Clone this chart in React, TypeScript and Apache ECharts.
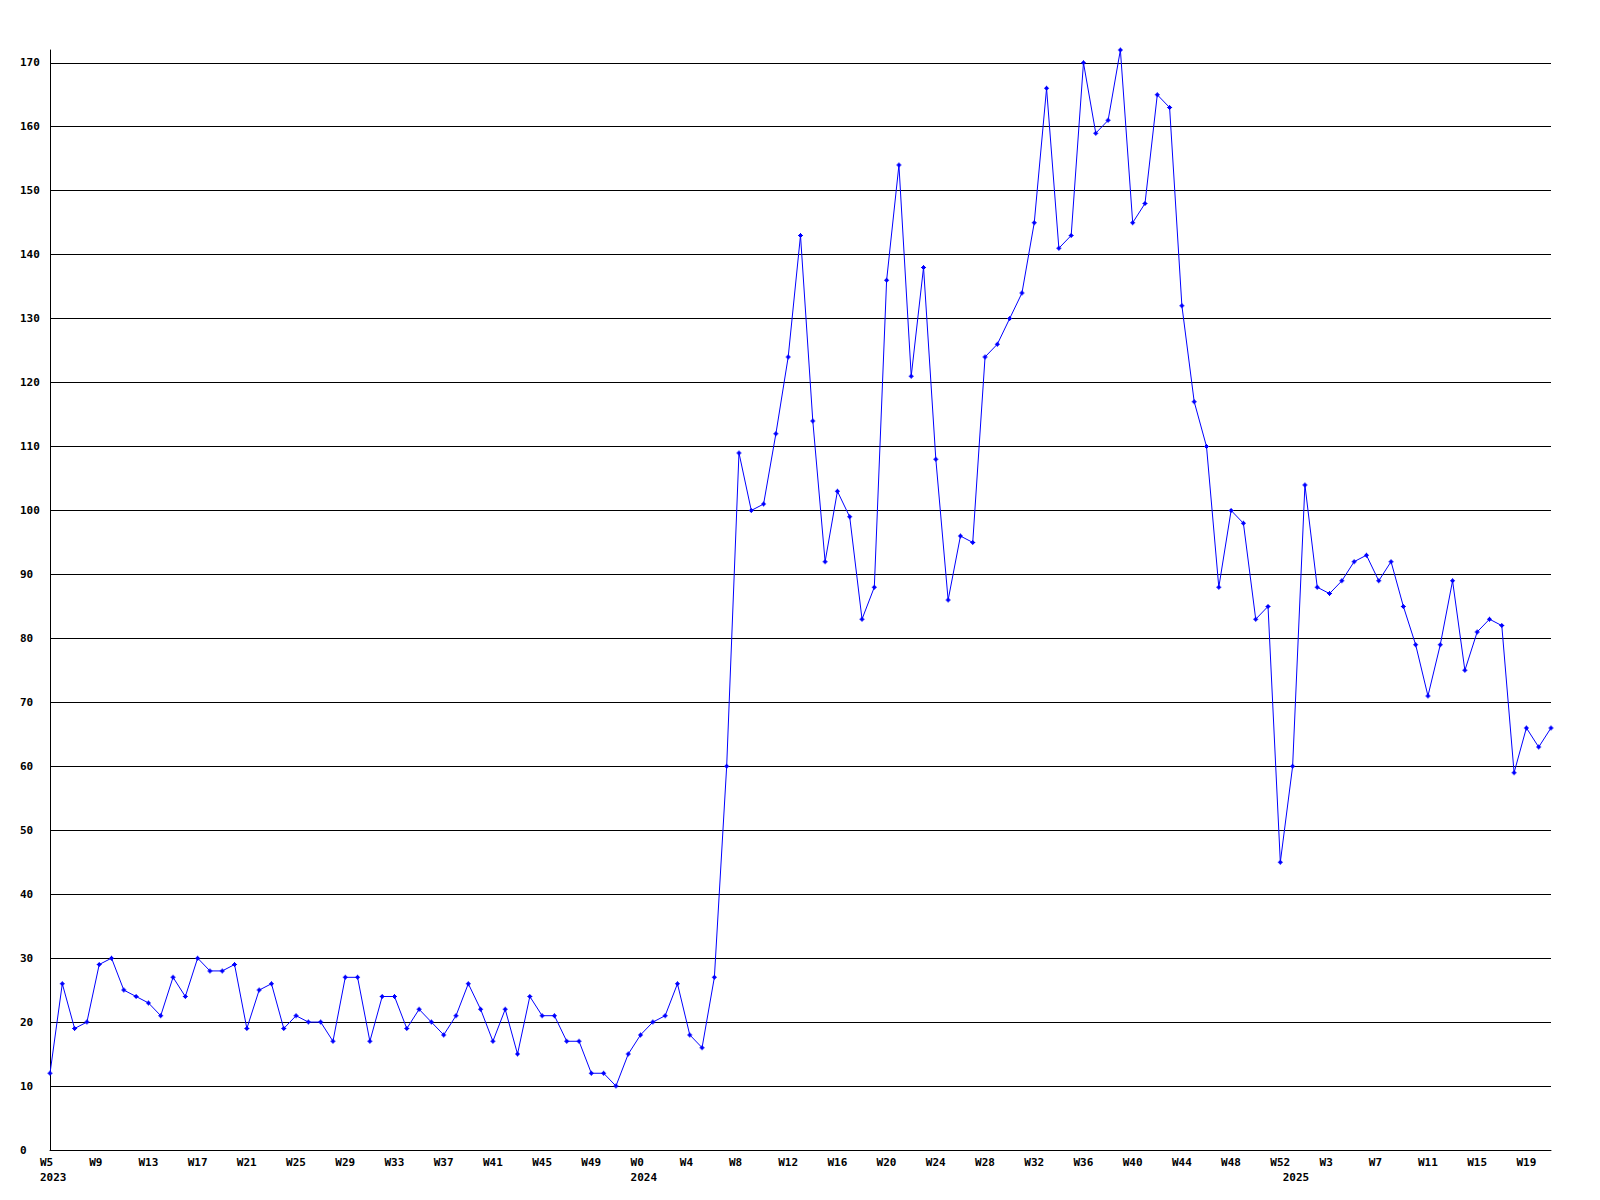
import React, { useEffect, useRef } from "react";
import * as echarts from "echarts";

// Week ranges covered by the x axis (year, first week, last week)
const weekRanges: [number, number, number][] = [
  [2023, 5, 52],
  [2024, 0, 52],
  [2025, 0, 21],
];

const weekLabels: string[] = [];
const yearLabels: string[] = []; // year shown under the first week of each year
weekRanges.forEach(([year, from, to]) => {
  for (let w = from; w <= to; w++) {
    weekLabels.push("W" + w);
    yearLabels.push(w === from ? String(year) : "");
  }
});

const values2023: number[] = [
  12, 26, 19, 20, 29, 30, 25, 24, 23, 21, 27, 24, 30, 28, 28, 29, 19, 25, 26, 19,
  21, 20, 20, 17, 27, 27, 17, 24, 24, 19, 22, 20, 18, 21, 26, 22, 17, 22, 15, 24,
  21, 21, 17, 17, 12, 12, 10, 15,
];
const values2024: number[] = [
  18, 20, 21, 26, 18, 16, 27, 60, 109, 100, 101, 112, 124, 143, 114, 92, 103, 99, 83, 88,
  136, 154, 121, 138, 108, 86, 96, 95, 124, 126, 130, 134, 145, 166, 141, 143, 170, 159, 161, 172,
  145, 148, 165, 163, 132, 117, 110, 88, 100, 98, 83, 85, 45,
];
const values2025: number[] = [
  60, 104, 88, 87, 89, 92, 93, 89, 92, 85, 79, 71, 79, 89, 75, 81, 83, 82, 59, 66,
  63, 66,
];
const seriesValues: number[] = [...values2023, ...values2024, ...values2025];

const yMin = 0;
const yMax = 172;
const yStep = 10;

const FONT = "DejaVu Sans Mono";

export default function App() {
  const ref = useRef<HTMLDivElement>(null);

  useEffect(() => {
    document.body.style.margin = "0";
    if (!ref.current) return;
    const chart = echarts.init(ref.current, null, { renderer: "svg" });
    const labelStyle = {
      fontFamily: FONT,
      fontWeight: "bold" as const,
      fontSize: 11,
      color: "#000",
    };
    chart.setOption({
      animation: false,
      backgroundColor: "#fff",
      grid: { left: 50, right: 49, top: 50, bottom: 50, containLabel: false },
      xAxis: {
        type: "category",
        data: weekLabels,
        boundaryGap: false,
        axisLine: { show: true, lineStyle: { color: "#000", width: 1 } },
        axisTick: { show: false },
        splitLine: { show: false },
        axisLabel: {
          ...labelStyle,
          align: "left",
          verticalAlign: "top",
          lineHeight: 15,
          margin: 5,
          padding: [0, 0, 0, -10],
          interval: (index: number) => index % 4 === 0 || yearLabels[index] !== "",
          formatter: (value: string, index: number) => {
            const wk = index % 4 === 0 ? value : "";
            const yr = yearLabels[index];
            return yr ? wk + "\n" + yr : wk;
          },
        },
      },
      yAxis: {
        type: "value",
        min: yMin,
        max: yMax,
        interval: yStep,
        axisLine: { show: true, lineStyle: { color: "#000", width: 1 } },
        axisTick: { show: false },
        splitLine: {
          show: true,
          showMaxLine: false,
          lineStyle: { color: "#000", width: 1 },
        },
        axisLabel: {
          ...labelStyle,
          align: "left",
          margin: 30,
          showMaxLabel: false,
        },
      },
      series: [
        {
          type: "line",
          data: seriesValues,
          symbol: "path://M2 0H3V1H4V2H5V3H4V4H3V5H2V4H1V3H0V2H1V1H2Z",
          symbolSize: 5,
          showAllSymbol: true,
          itemStyle: { color: "#0000ff" },
          lineStyle: { color: "#0000ff", width: 1 },
          emphasis: { disabled: true },
        },
      ],
    });
    return () => chart.dispose();
  }, []);

  return (
    <div
      ref={ref}
      style={{ position: "absolute", left: 0, top: 0, width: 1600, height: 1200 }}
    />
  );
}
